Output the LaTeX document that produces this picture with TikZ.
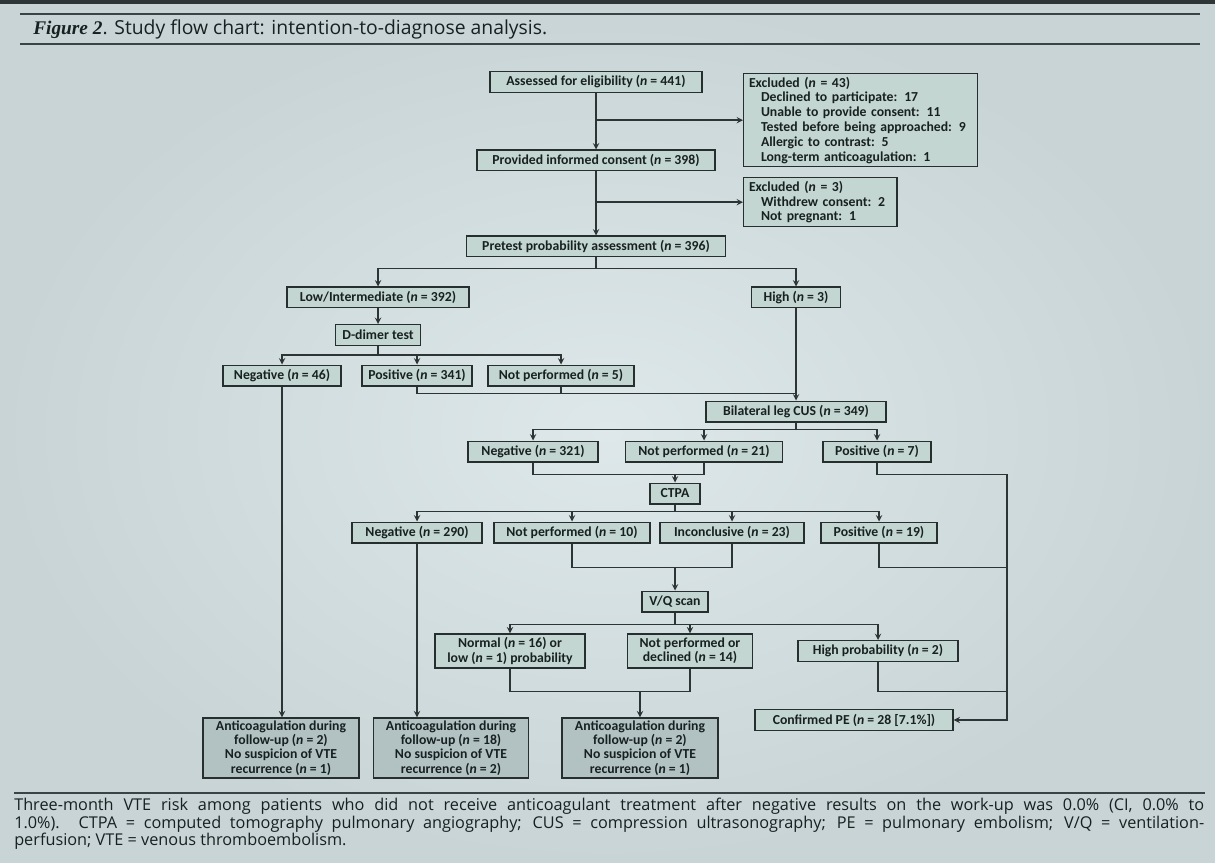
\documentclass[tikz,border=0pt]{standalone}
\usepackage{fontspec}
\setmainfont{Carlito}
\newfontfamily\capfont{Open Sans}
\newfontfamily\figfont{Liberation Serif}

\definecolor{bgin}{RGB}{222,232,235}
\definecolor{bgout}{RGB}{200,212,214}
\definecolor{boxc}{RGB}{196,214,209}
\definecolor{acc}{RGB}{178,194,194}
\definecolor{edgec}{RGB}{38,46,46}
\definecolor{linec}{RGB}{45,52,52}
\definecolor{inkc}{RGB}{24,33,33}
\definecolor{rulec}{RGB}{58,68,70}

\begin{document}
\begin{tikzpicture}[x=0.75pt, y=-0.75pt, >=stealth,
    box/.style={draw=edgec, fill=boxc, line width=1pt, text=inkc,
      font=\bfseries\fontsize{10.3}{10.8}\selectfont, inner sep=1.5pt,
      minimum height=15.5pt, align=center},
    exbox/.style={box, align=left, anchor=north west, inner xsep=4pt,
      font=\bfseries\fontsize{10.3}{11.1}\selectfont},
    acbox/.style={box, fill=acc, minimum height=45pt},
    wd/.style={minimum width=#1*0.75pt},
    link/.style={draw=linec, line width=1.1pt}]

        % Background
        \useasboundingbox (0,0) rectangle (1215,863);
        \shade[inner color=bgin, outer color=bgout] (0,0) rectangle (1215,863);
        \fill[rulec!80!black] (0,0) rectangle (1215,4);
        \draw[rulec, line width=1.6pt] (20,14) -- (1200,14);
        \draw[rulec, line width=1.3pt] (20,44) -- (1200,44);
        \draw[rulec, line width=1.3pt] (14,793) -- (1205,793);

        % Title and caption
        \node[anchor=west, inner sep=0, text=inkc, font=\capfont\fontsize{14.5}{16}\selectfont] (title) at (33,29)
            {{\figfont\bfseries\itshape Figure 2}. Study flow chart: intention-to-diagnose analysis.};
        \node[anchor=north west, inner sep=0, text width=892.5pt, align=justify, text=inkc,
              font=\capfont\fontsize{12.2}{13}\selectfont] (caption) at (14,798)
            {Three-month VTE risk among patients who did not receive anticoagulant treatment after negative results on the work-up was 0.0\% (CI, 0.0\% to\linebreak
             1.0\%). CTPA = computed tomography pulmonary angiography; CUS = compression ultrasonography; PE = pulmonary embolism; V/Q = ventilation-\linebreak
             perfusion; VTE = venous thromboembolism.};

        % Nodes
        \node[box, wd=212] (assess) at (596,82) {Assessed for eligibility (\textit{n} = 441)};
        \node[exbox, text width=167.5pt, minimum height=69.75pt] (excl1) at (743,73)
            {Excluded (\textit{n} = 43)\\
             \hspace*{9pt}Declined to participate: 17\\
             \hspace*{9pt}Unable to provide consent: 11\\
             \hspace*{9pt}Tested before being approached: 9\\
             \hspace*{9pt}Allergic to contrast: 5\\
             \hspace*{9pt}Long-term anticoagulation: 1};
        \node[box, wd=238] (consent) at (596,160.5) {Provided informed consent (\textit{n} = 398)};
        \node[exbox, text width=107pt, minimum height=36.75pt] (excl2) at (743,177)
            {Excluded (\textit{n} = 3)\\
             \hspace*{9pt}Withdrew consent: 2\\
             \hspace*{9pt}Not pregnant: 1};
        \node[box, wd=259] (pretest) at (596,246.5) {Pretest probability assessment (\textit{n} = 396)};
        \node[box, wd=182] (low) at (378,297.5) {Low/Intermediate (\textit{n} = 392)};
        \node[box, wd=89] (high) at (796,297.5) {High (\textit{n} = 3)};
        \node[box, wd=85] (ddimer) at (378,335) {D-dimer test};
        \node[box, wd=118] (neg46) at (282,375.5) {Negative (\textit{n} = 46)};
        \node[box, wd=110] (pos341) at (417,375.5) {Positive (\textit{n} = 341)};
        \node[box, wd=146] (np5) at (561,375.5) {Not performed (\textit{n} = 5)};
        \node[box, wd=180] (bilat) at (796,411.5) {Bilateral leg CUS (\textit{n} = 349)};
        \node[box, wd=130] (neg321) at (533,451.5) {Negative (\textit{n} = 321)};
        \node[box, wd=157] (np21) at (704,451.5) {Not performed (\textit{n} = 21)};
        \node[box, wd=108] (pos7) at (877,451.5) {Positive (\textit{n} = 7)};
        \node[box, wd=50] (ctpa) at (675,493.5) {CTPA};
        \node[box, wd=130] (neg290) at (417,532.5) {Negative (\textit{n} = 290)};
        \node[box, wd=156] (np10) at (572,532.5) {Not performed (\textit{n} = 10)};
        \node[box, wd=144] (incon) at (732,532.5) {Inconclusive (\textit{n} = 23)};
        \node[box, wd=116] (pos19) at (879,532.5) {Positive (\textit{n} = 19)};
        \node[box, wd=66] (vq) at (675,601.5) {V/Q scan};
        \node[box, wd=150, minimum height=25.5pt] (normal) at (510,651)
            {Normal (\textit{n} = 16) or\\low (\textit{n} = 1) probability};
        \node[box, wd=125, minimum height=25.5pt] (npdecl) at (690,651)
            {Not performed or\\declined (\textit{n} = 14)};
        \node[box, wd=160] (highp) at (878,651) {High probability (\textit{n} = 2)};
        \node[acbox, wd=156] (ac1) at (281,748)
            {Anticoagulation during\\follow-up (\textit{n} = 2)\\No suspicion of VTE\\recurrence (\textit{n} = 1)};
        \node[acbox, wd=155] (ac2) at (451,748)
            {Anticoagulation during\\follow-up (\textit{n} = 18)\\No suspicion of VTE\\recurrence (\textit{n} = 2)};
        \node[acbox, wd=156] (ac3) at (640,748)
            {Anticoagulation during\\follow-up (\textit{n} = 2)\\No suspicion of VTE\\recurrence (\textit{n} = 1)};
        \node[box, wd=198] (pe) at (854,720) {Confirmed PE (\textit{n} = 28 [7.1\%])};
        \coordinate (edge) at (1007,720);

        % Edges
        \draw[link, ->] (assess) -- (consent);
        \draw[link, ->] (assess.south |- excl1.west) -- (excl1.west);
        \draw[link, ->] (consent) -- (pretest);
        \draw[link, ->] (consent.south |- excl2.west) -- (excl2.west);
        \draw[link, ->] (pretest.south) -- ++(0,11) coordinate (fA) -| (low.north);
        \draw[link, ->] (fA) -| (high.north);
        \draw[link, ->] (low) -- (ddimer);
        \draw[link, ->] (ddimer.south) -- ++(0,9) coordinate (fB) -| (neg46.north);
        \draw[link, ->] (fB) -| (pos341.north);
        \draw[link, ->] (fB) -| (np5.north);
        \draw[link] (pos341.south) -- ++(0,7) coordinate (mA) -- (mA -| high.south);
        \draw[link] (np5.south) -- (np5.south |- mA);
        \draw[link, ->] (high) -- (bilat);
        \draw[link, ->] (bilat.south) -- ++(0,7) coordinate (fC) -| (neg321.north);
        \draw[link, ->] (fC) -| (np21.north);
        \draw[link, ->] (fC) -| (pos7.north);
        \draw[link] (neg321.south) -- ++(0,12) coordinate (mB) -| (np21.south);
        \draw[link, ->] (mB -| ctpa.north) -- (ctpa.north);
        \draw[link, ->] (pos7.south) |- (mB -| edge) -- (edge) -- (pe.east);
        \draw[link, ->] (ctpa.south) -- ++(0,7) coordinate (fD) -| (neg290.north);
        \draw[link, ->] (fD) -| (np10.north);
        \draw[link, ->] (fD) -| (incon.north);
        \draw[link, ->] (fD) -| (pos19.north);
        \draw[link] (np10.south) -- ++(0,24) coordinate (mC) -| (incon.south);
        \draw[link, ->] (mC -| vq.north) -- (vq.north);
        \draw[link] (pos19.south) |- (mC -| edge);
        \draw[link, ->] (vq.south) -- ++(0,12) coordinate (fE) -| (normal.north);
        \draw[link, ->] (fE) -| (npdecl.north);
        \draw[link, ->] (fE) -| (highp.north);
        \draw[link] (normal.south) -- ++(0,23) coordinate (mD) -| (npdecl.south);
        \draw[link, ->] (mD -| ac3.north) -- (ac3.north);
        \draw[link] (highp.south) |- (mD -| edge);
        \draw[link, ->] (neg46.south) -- (neg46.south |- ac1.north);
        \draw[link, ->] (neg290.south) -- (neg290.south |- ac2.north);

    \end{tikzpicture}
\end{document}
